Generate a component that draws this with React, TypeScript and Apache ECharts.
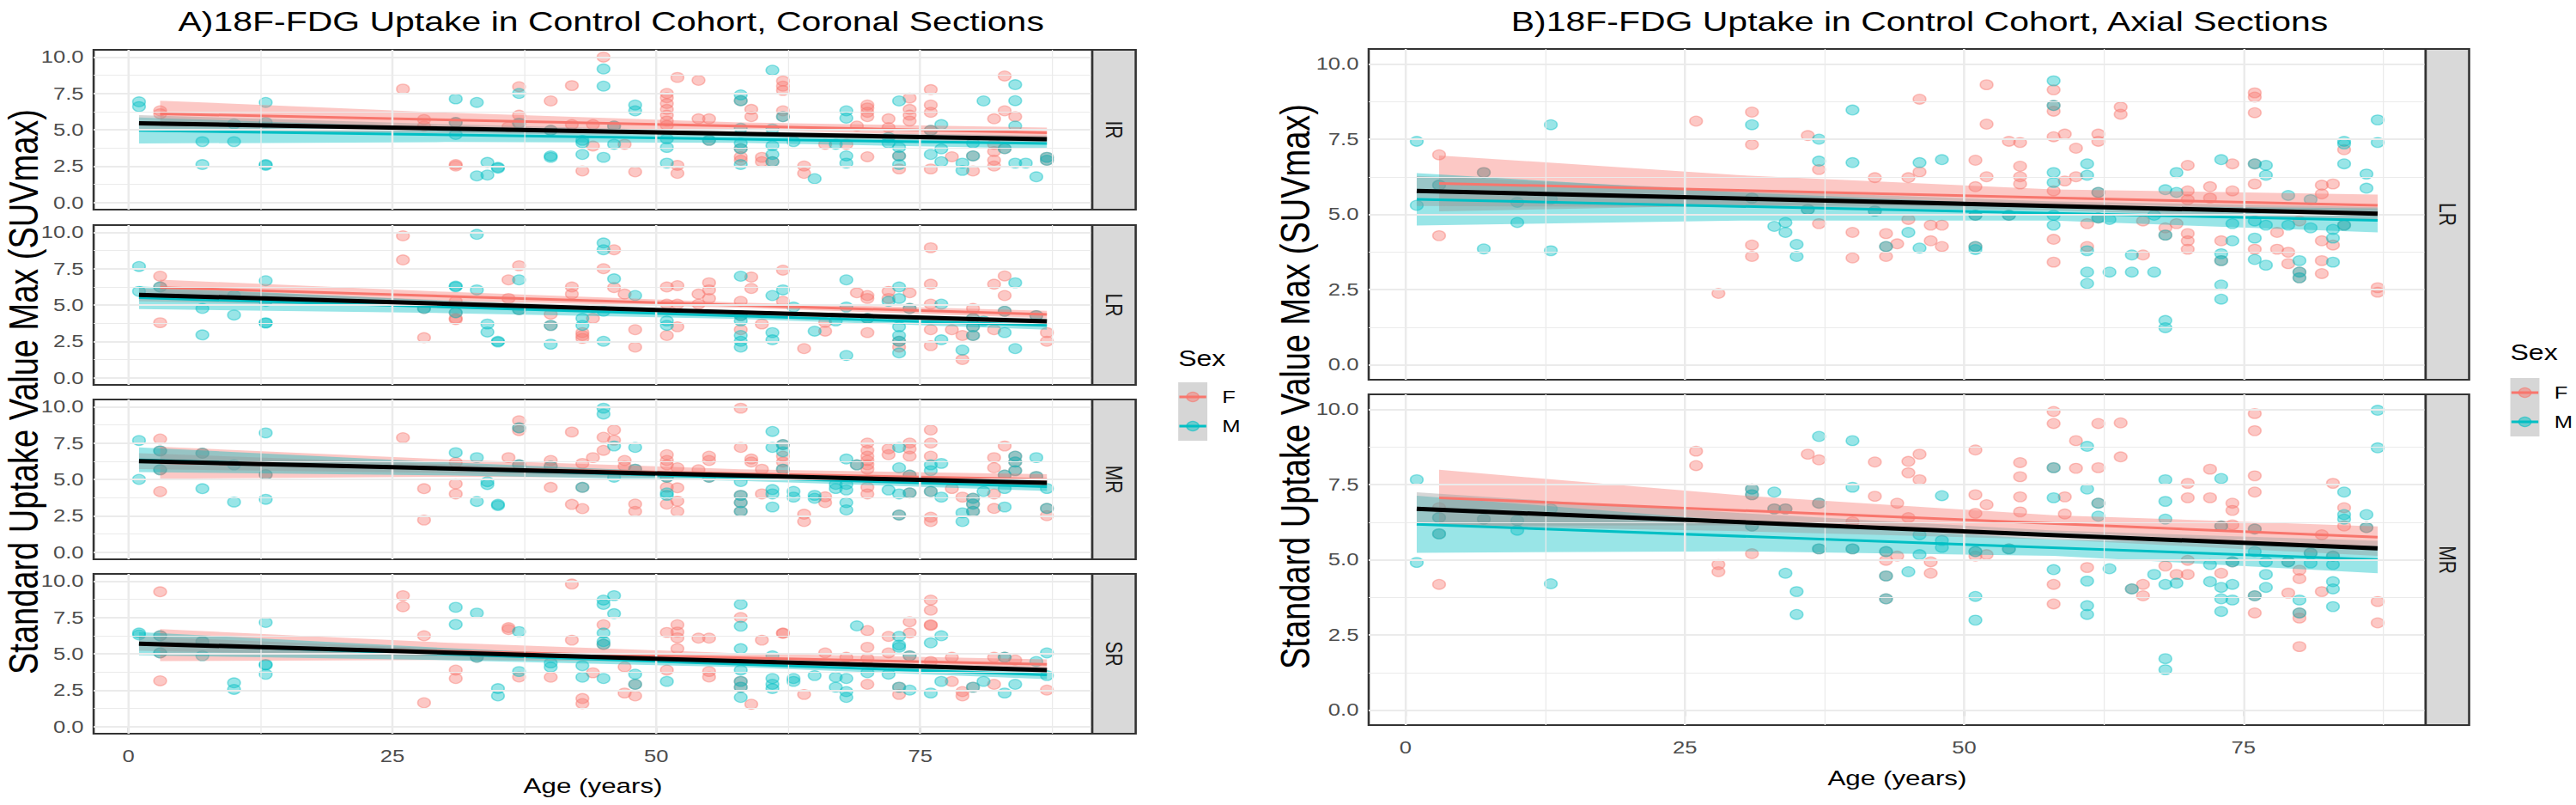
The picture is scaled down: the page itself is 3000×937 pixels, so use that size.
import React, { useEffect, useRef } from 'react';
import * as echarts from 'echarts';

// The reference image is horizontally stretched by ~1.28 (text & dots are wider than tall),
// so the chart is laid out at 3000/1.28 px and scaled along x with CSS.
const STRETCH = 1.28;
const CHART_W = 3000 / STRETCH;
const CHART_H = 937;

const FONT = "'Liberation Sans', Arial, Helvetica, sans-serif";
const COL_F = '#F8766D';
const COL_M = '#00BFC4';
const GRID_COL = '#EBEBEB';

const ageTicks = [0, 25, 50, 75];
const ageMinor = [12.5, 37.5, 62.5, 87.5];
const suvTicks = [0, 2.5, 5, 7.5, 10];
const suvMinor = [1.25, 3.75, 6.25, 8.75];
const sexLevels = ['F', 'M'];
const coronalFacets = ['IR', 'LR', 'MR', 'SR'];
const axialFacets = ['LR', 'MR'];

// ---------------- Coronal sections (panel A) ----------------
const corIR_F = [[3,6.3],[3,6.1],[26,7.8],[28,5.7],[28,5.25],[31,2.6],[31,2.5],[31,5.5],[37,7.96],[37,6.0],[37,5.45],[36,5.2],[40,6.98],[40,4.96],[42,8.04],[42,5.35],[43,2.16],[44,3.88],[44,5.35],[45,10.0],[46,5.25],[47,4.0],[48,2.1],[51,7.5],[51,7.2],[51,6.8],[51,6.4],[51,6.0],[51,5.6],[51,5.3],[52,8.6],[52,2.55],[52,2.0],[54,8.4],[54,5.75],[55,5.75],[55,4.27],[58,7.0],[58,3.7],[58,3.14],[58,2.9],[59,6.4],[59,5.9],[60,3.1],[60,2.8],[62,8.35],[62,8.0],[62,7.7],[62,6.3],[62,5.9],[61,2.8],[64,2.5],[64,2.0],[66,4.0],[68,4.0],[69,5.25],[70,6.7],[70,6.5],[70,6.2],[70,5.9],[70,3.14],[72,5.75],[72,5.15],[74,7.18],[74,6.4],[74,6.0],[74,5.6],[73,3.2],[73,2.3],[76,7.76],[76,6.7],[76,6.2],[76,4.96],[76,2.3],[78,3.14],[80,3.2],[80,2.16],[82,5.75],[82,4.0],[82,3.5],[82,2.9],[82,2.5],[83,3.7],[83,8.7],[83,6.3],[84,5.9],[87,3.1],[87,2.9]];
const corIR_M = [[1,6.92],[1,6.59],[7,4.18],[7,2.6],[10,4.18],[10,5.4],[13,6.88],[13,2.6],[13,2.55],[13,5.5],[31,7.12],[31,5.5],[31,4.67],[33,6.88],[33,1.82],[34,2.75],[34,1.88],[35,2.41],[35,2.35],[37,7.5],[37,5.45],[40,3.2],[40,3.1],[40,4.96],[43,3.3],[43,4.27],[43,4.1],[45,9.18],[45,8.0],[45,3.1],[46,4.0],[46,5.25],[48,6.7],[48,6.3],[51,4.37],[51,3.78],[51,2.7],[55,4.27],[58,7.4],[58,7.0],[58,5.1],[58,4.08],[58,3.7],[58,2.6],[61,9.1],[61,5.05],[61,3.9],[61,3.3],[61,2.8],[62,5.9],[63,4.18],[65,1.63],[67,4.0],[68,6.3],[68,5.8],[68,3.2],[68,2.7],[72,4.47],[72,4.08],[73,6.98],[73,3.78],[73,3.2],[73,2.6],[76,4.96],[76,3.3],[77,5.35],[77,3.68],[77,2.8],[79,2.7],[79,2.2],[80,3.2],[80,4.08],[81,6.98],[83,3.7],[84,8.1],[84,7.0],[84,5.25],[84,2.7],[85,2.7],[86,1.76],[87,3.1],[87,2.9]];
const corIR_fitF = [[3,6.1],[87,4.8]];
const corIR_fitM = [[1,4.95],[87,4.05]];
const corIR_fitAll = [[1,5.45],[87,4.35]];
const corIR_bandF = [[3,5.2,7.0],[30,5.18,6.18],[58,5.0,5.5],[87,4.45,5.15]];
const corIR_bandM = [[1,4.05,5.85],[30,4.15,5.15],[58,4.1,4.6],[87,3.7,4.4]];
const corIR_bandAll = [[1,4.9,6.0],[30,4.78,5.38],[58,4.57,4.87],[87,4.1,4.6]];

const corLR_F = [[3,6.98],[3,6.24],[3,3.78],[26,9.76],[26,8.1],[28,2.75],[28,4.76],[31,4.08],[31,4.0],[31,4.47],[31,5.25],[36,6.73],[36,5.45],[37,7.7],[37,4.67],[40,4.37],[40,3.59],[42,6.24],[42,5.75],[43,3.1],[43,2.9],[43,2.7],[44,4.08],[46,8.8],[45,7.5],[46,6.2],[47,5.75],[48,3.3],[48,2.1],[51,6.24],[52,6.33],[51,5.06],[52,5.06],[51,2.9],[52,3.5],[54,5.75],[55,6.53],[55,6.04],[55,5.45],[54,5.06],[59,6.92],[59,6.14],[58,5.25],[58,4.27],[58,3.3],[60,3.69],[62,7.4],[62,5.25],[64,2.0],[66,3.2],[66,3.8],[69,5.84],[70,5.45],[70,5.65],[70,4.08],[70,3.1],[72,5.94],[72,5.45],[74,5.84],[74,4.76],[73,2.1],[73,2.5],[76,8.94],[76,6.43],[76,5.06],[76,3.3],[76,2.2],[78,3.3],[79,2.9],[79,1.24],[80,4.08],[80,3.5],[80,2.9],[80,4.76],[82,6.43],[83,7.0],[83,5.65],[83,4.57],[82,3.3],[86,4.27],[87,3.1],[87,2.5]];
const corLR_M = [[1,7.65],[1,5.94],[3,6.24],[7,4.76],[7,2.94],[10,4.31],[10,5.65],[13,6.67],[13,3.78],[13,3.75],[13,5.25],[28,4.76],[31,6.3],[31,6.25],[31,4.47],[33,9.86],[33,6.04],[34,3.69],[34,3.14],[35,2.5],[35,2.45],[37,6.73],[37,4.67],[40,3.59],[40,2.3],[43,4.08],[43,3.6],[45,9.27],[45,8.8],[46,6.8],[48,5.65],[45,4.57],[45,2.5],[51,3.9],[51,3.6],[58,6.98],[58,4.27],[58,3.9],[58,2.9],[58,2.5],[58,2.1],[61,5.65],[62,6.04],[61,3.1],[61,2.6],[63,4.86],[65,3.2],[67,3.9],[68,4.86],[68,1.53],[68,6.73],[70,4.08],[72,5.25],[73,6.24],[73,5.45],[74,4.76],[73,3.5],[73,2.9],[73,2.5],[73,1.7],[77,5.06],[77,2.6],[79,1.9],[80,4.08],[80,3.5],[80,2.9],[81,3.9],[84,6.53],[83,4.57],[83,3.1],[84,2.0],[86,4.27]];
const corLR_fitF = [[3,6.2],[87,4.35]];
const corLR_fitM = [[1,5.5],[87,3.6]];
const corLR_fitAll = [[1,5.7],[87,3.88]];
const corLR_bandF = [[3,5.65,6.75],[30,5.31,5.91],[58,4.81,5.17],[87,4.1,4.6]];
const corLR_bandM = [[1,4.72,6.28],[30,4.44,5.28],[58,4.04,4.44],[87,3.3,3.9]];
const corLR_bandAll = [[1,5.25,6.15],[30,4.84,5.34],[58,4.37,4.61],[87,3.68,4.08]];

const corMR_F = [[3,7.78],[3,6.96],[3,5.66],[3,4.16],[7,6.8],[13,5.33],[26,7.87],[28,4.36],[28,2.2],[31,6.17],[31,4.69],[31,4.0],[36,6.5],[37,9.04],[37,8.55],[37,8.36],[37,6.0],[40,6.3],[40,5.9],[40,4.45],[42,8.26],[42,3.28],[43,2.99],[43,4.45],[43,6.1],[44,6.5],[46,8.4],[45,7.9],[45,7.0],[46,7.7],[47,6.3],[47,5.9],[48,5.7],[48,3.3],[48,2.8],[51,6.7],[51,6.3],[51,6.0],[51,4.46],[51,3.3],[51,5.15],[52,5.8],[52,4.42],[52,3.5],[52,2.8],[54,5.67],[55,6.6],[55,6.3],[55,5.15],[58,9.9],[58,7.2],[58,3.9],[58,3.4],[58,2.8],[59,6.4],[59,6.2],[60,5.7],[60,4.0],[62,6.6],[62,6.2],[62,5.7],[62,7.4],[64,2.6],[64,2.1],[66,3.8],[66,3.4],[69,6.0],[70,7.5],[70,7.0],[70,6.6],[70,6.3],[70,6.0],[70,5.7],[70,4.46],[70,4.0],[72,7.1],[72,6.7],[73,2.55],[74,7.5],[74,7.1],[74,6.6],[74,5.3],[74,4.07],[76,8.4],[76,7.5],[76,6.6],[76,4.17],[76,2.4],[76,2.1],[78,4.37],[79,3.78],[80,3.7],[80,3.3],[80,2.8],[82,6.5],[82,5.8],[82,4.0],[82,3.0],[83,7.3],[83,5.3],[84,6.6],[84,6.2],[84,5.6],[86,5.2],[87,3.0],[87,2.5]];
const corMR_M = [[1,7.68],[1,5.0],[3,6.96],[3,5.66],[7,6.8],[7,4.36],[10,6.0],[10,3.44],[13,8.2],[13,5.33],[13,3.63],[31,6.84],[33,6.5],[33,3.48],[34,4.84],[34,4.65],[35,3.28],[35,3.2],[37,8.55],[37,6.0],[40,5.9],[43,4.45],[45,9.9],[45,9.5],[46,7.3],[46,5.15],[48,7.2],[48,5.7],[51,4.07],[51,3.9],[51,5.15],[55,5.15],[58,4.85],[58,3.9],[58,3.4],[58,2.8],[61,8.3],[61,7.2],[62,7.4],[62,6.9],[62,5.7],[61,4.3],[61,4.0],[61,3.1],[63,4.17],[63,3.78],[65,3.9],[65,3.7],[67,4.66],[67,4.37],[68,6.4],[69,6.0],[68,4.66],[68,4.27],[68,3.4],[68,2.9],[72,4.27],[73,7.2],[73,5.8],[73,4.0],[73,2.55],[74,5.3],[74,4.07],[76,6.0],[76,5.6],[76,4.17],[77,6.1],[77,3.78],[79,2.7],[79,2.1],[80,3.7],[80,3.3],[80,2.8],[81,4.17],[83,4.37],[83,3.1],[83,5.3],[84,6.6],[84,6.2],[84,5.6],[86,6.5],[86,5.2],[87,4.37],[87,3.0]];
const corMR_fitF = [[3,6.15],[87,5.0]];
const corMR_fitM = [[1,6.35],[87,4.5]];
const corMR_fitAll = [[1,6.26],[87,4.76]];
const corMR_bandF = [[3,5.05,7.25],[30,5.18,6.38],[58,5.1,5.7],[87,4.65,5.35]];
const corMR_bandM = [[1,5.5,7.2],[30,5.28,6.18],[58,4.9,5.34],[87,4.2,4.8]];
const corMR_bandAll = [[1,5.71,6.81],[30,5.45,6.05],[58,5.13,5.41],[87,4.54,4.98]];

const corSR_F = [[3,9.27],[3,6.24],[3,5.06],[3,3.14],[7,5.84],[26,9.0],[26,8.24],[28,6.24],[28,1.63],[31,3.88],[31,3.3],[33,4.76],[36,6.8],[36,6.67],[37,3.4],[40,3.39],[42,9.8],[42,5.94],[43,1.92],[43,1.57],[44,3.69],[45,7.0],[45,5.65],[47,4.1],[47,2.3],[48,2.1],[48,2.9],[51,6.47],[51,3.88],[52,7.0],[52,6.5],[52,6.1],[52,5.35],[54,6.08],[55,6.08],[55,3.78],[55,3.4],[58,7.5],[58,3.1],[58,2.7],[59,1.53],[60,5.94],[62,6.43],[62,6.4],[64,2.2],[66,5.06],[68,4.76],[70,6.6],[70,5.45],[70,4.67],[70,2.9],[72,6.2],[72,5.06],[73,2.2],[73,2.7],[74,7.2],[74,6.43],[74,4.86],[76,8.7],[76,8.0],[76,7.0],[76,6.95],[76,4.47],[78,4.76],[78,3.1],[79,2.4],[79,2.1],[80,2.7],[82,4.76],[82,2.9],[83,4.76],[84,4.57],[87,2.5]];
const corSR_M = [[1,6.43],[1,6.3],[3,6.24],[3,5.06],[7,5.84],[7,4.86],[10,3.0],[10,2.55],[13,7.16],[13,4.27],[13,4.22],[13,3.59],[31,8.2],[31,7.02],[33,7.8],[33,4.76],[35,2.6],[35,2.1],[37,6.53],[37,3.78],[40,4.37],[40,4.08],[43,4.18],[43,3.39],[45,8.7],[45,8.4],[46,9.0],[46,7.76],[45,6.43],[45,5.84],[45,5.65],[45,3.3],[48,3.6],[48,2.9],[51,3.1],[58,8.4],[58,6.9],[58,5.35],[58,3.88],[58,3.1],[58,2.7],[58,2.0],[61,4.86],[61,3.3],[61,2.9],[61,2.6],[63,3.3],[63,3.1],[65,3.5],[67,3.39],[67,2.7],[68,3.3],[68,2.4],[68,2.0],[69,6.92],[70,3.7],[72,3.6],[73,6.2],[73,5.6],[73,5.45],[73,2.7],[74,4.86],[74,2.5],[76,5.75],[76,2.3],[77,6.24],[77,3.1],[80,2.7],[81,3.1],[83,4.76],[83,2.3],[84,2.9],[86,4.47],[87,5.06],[87,3.5]];
const corSR_fitF = [[3,5.6],[87,4.27]];
const corSR_fitM = [[1,5.7],[87,3.55]];
const corSR_fitAll = [[1,5.7],[87,3.88]];
const corSR_bandF = [[3,4.5,6.7],[30,4.57,5.77],[58,4.43,5.03],[87,3.92,4.62]];
const corSR_bandM = [[1,4.9,6.5],[30,4.56,5.4],[58,4.08,4.48],[87,3.25,3.85]];
const corSR_bandAll = [[1,5.2,6.2],[30,4.82,5.36],[58,4.36,4.62],[87,3.68,4.08]];

// ---------------- Axial sections (panel B) ----------------
const axLR_F = [[3,6.98],[3,4.29],[3,5.97],[7,6.39],[26,8.1],[28,2.37],[31,8.4],[31,7.32],[31,5.54],[31,3.98],[31,3.6],[36,7.62],[37,6.49],[37,4.69],[36,5.16],[40,4.4],[40,3.55],[42,6.22],[42,5.11],[43,3.93],[43,4.36],[43,3.6],[44,4.02],[45,6.22],[45,4.83],[46,8.83],[46,6.41],[47,4.64],[47,4.12],[48,4.64],[48,3.93],[51,6.8],[51,5.92],[51,4.97],[51,3.93],[52,9.31],[52,8.0],[52,6.25],[54,7.43],[54,4.97],[55,7.39],[55,6.6],[55,6.25],[55,6.01],[58,9.14],[58,8.62],[58,8.43],[58,7.58],[58,5.78],[58,4.17],[58,3.41],[59,7.67],[59,6.11],[60,7.2],[60,6.25],[62,7.67],[62,7.43],[62,5.73],[62,4.88],[61,4.69],[61,3.93],[64,8.57],[64,8.33],[66,3.65],[66,4.78],[68,4.55],[68,4.31],[69,4.69],[70,6.63],[70,5.78],[70,5.49],[70,4.36],[70,4.12],[70,3.84],[73,4.12],[73,3.46],[72,5.92],[72,5.54],[74,6.68],[74,5.78],[76,9.04],[76,8.9],[76,8.38],[76,6.68],[76,6.01],[76,3.84],[78,4.4],[78,3.84],[79,3.74],[79,3.36],[80,3.08],[80,2.89],[80,4.78],[82,5.97],[82,5.68],[82,4.12],[82,3.46],[82,3.03],[83,6.01],[83,3.98],[84,7.15],[84,4.64],[87,2.56],[87,2.41]];
const axLR_M = [[1,7.43],[1,5.3],[3,5.97],[7,6.39],[7,3.85],[10,5.4],[10,4.73],[13,7.98],[13,3.79],[13,5.5],[31,7.98],[31,5.54],[33,4.6],[34,4.73],[34,4.4],[35,4.0],[35,3.6],[37,7.5],[37,6.77],[36,5.16],[40,8.47],[40,6.72],[42,5.11],[43,3.93],[45,4.4],[46,6.72],[46,3.88],[48,6.82],[51,4.97],[51,3.93],[51,3.83],[54,4.97],[58,9.44],[58,8.62],[58,6.39],[58,6.06],[58,4.97],[58,4.64],[61,6.68],[61,6.3],[62,5.73],[62,4.88],[61,3.79],[61,3.08],[61,2.7],[63,4.83],[63,3.08],[65,3.65],[65,3.08],[67,3.08],[67,4.97],[68,5.82],[68,4.31],[68,1.47],[68,1.23],[69,6.39],[69,5.73],[73,6.82],[73,3.69],[73,3.46],[73,2.65],[73,2.18],[74,4.69],[74,4.12],[76,6.68],[76,4.78],[76,4.21],[76,3.5],[77,6.63],[77,6.3],[77,4.64],[77,3.31],[79,5.63],[79,4.64],[80,3.46],[80,3.08],[80,2.89],[81,5.49],[81,4.55],[83,4.5],[83,4.21],[83,3.41],[84,7.43],[84,7.34],[84,6.68],[84,4.64],[86,6.34],[86,5.87],[87,8.14],[87,7.39]];
const axLR_fitF = [[3,6.03],[87,5.3]];
const axLR_fitM = [[1,5.5],[87,4.8]];
const axLR_fitAll = [[1,5.78],[87,5.02]];
const axLR_bandF = [[3,5.1,6.96],[30,5.3,6.3],[58,5.27,5.83],[87,4.94,5.66]];
const axLR_bandM = [[1,4.63,6.37],[30,4.79,5.73],[58,4.79,5.29],[87,4.4,5.2]];
const axLR_bandAll = [[1,5.28,6.28],[30,5.24,5.8],[58,5.13,5.43],[87,4.8,5.24]];

const axMR_F = [[3,6.73],[3,6.4],[3,5.86],[3,4.18],[7,6.35],[26,8.61],[26,8.13],[28,4.84],[28,4.6],[31,7.35],[31,7.16],[31,6.12],[31,5.2],[33,6.69],[34,6.69],[36,8.51],[37,8.32],[37,6.88],[37,5.36],[40,6.26],[40,5.36],[42,8.25],[42,7.11],[43,5.27],[43,4.98],[43,4.46],[43,3.7],[44,5.12],[44,6.88],[45,8.27],[45,7.89],[45,6.4],[46,8.51],[46,7.66],[47,4.93],[47,4.55],[51,8.65],[51,7.16],[51,6.54],[51,5.27],[51,5.12],[52,6.83],[52,5.17],[54,5.36],[55,8.23],[55,7.76],[55,7.09],[55,6.59],[58,9.93],[58,9.53],[58,8.06],[58,4.18],[58,3.53],[59,7.09],[59,6.52],[60,8.96],[60,8.04],[62,6.88],[62,9.53],[62,8.06],[61,4.74],[64,9.55],[64,8.42],[65,4.03],[66,4.18],[66,3.8],[68,4.79],[69,4.51],[70,7.54],[70,7.06],[70,4.98],[70,4.51],[72,8.01],[72,7.06],[73,6.12],[73,4.55],[74,6.88],[74,6.64],[74,6.16],[74,4.93],[76,9.86],[76,9.29],[76,7.79],[76,7.25],[76,6.02],[76,3.8],[76,3.23],[79,3.89],[79,4.93],[80,4.65],[80,4.37],[80,3.23],[80,3.06],[80,2.11],[81,5.22],[82,5.83],[82,3.94],[83,7.54],[83,5.12],[84,6.73],[84,6.12],[86,6.07],[87,3.61],[87,2.9]];
const axMR_M = [[1,7.66],[1,4.91],[3,6.4],[3,5.86],[7,6.35],[10,6.3],[10,5.98],[13,6.69],[13,4.2],[31,7.35],[31,7.16],[31,6.12],[33,7.25],[33,6.69],[34,6.69],[34,4.55],[35,3.94],[35,3.18],[37,9.1],[37,6.88],[37,5.36],[40,8.96],[40,7.41],[40,5.36],[43,5.27],[43,4.46],[43,3.7],[45,4.6],[46,5.83],[46,5.17],[48,7.13],[48,5.64],[48,5.41],[51,5.27],[51,3.78],[51,2.99],[54,5.36],[58,8.06],[58,7.06],[58,4.67],[61,8.77],[61,7.35],[62,6.88],[62,6.45],[61,4.29],[61,3.47],[61,3.18],[63,4.7],[65,4.03],[67,4.51],[68,7.66],[68,6.94],[68,6.35],[68,4.18],[68,1.71],[68,1.34],[69,4.22],[72,4.84],[72,4.27],[73,7.7],[73,6.12],[73,4.08],[73,3.7],[73,3.28],[74,4.18],[74,3.66],[74,4.93],[76,6.02],[76,5.27],[76,3.8],[77,4.93],[77,4.51],[77,4.08],[79,4.93],[80,3.66],[80,3.23],[81,5.22],[81,4.89],[83,4.84],[83,4.27],[83,4.03],[83,3.44],[83,5.12],[84,7.25],[84,6.5],[84,6.35],[86,6.5],[86,6.07],[87,9.97],[87,8.72]];
const axMR_fitF = [[3,7.06],[87,5.75]];
const axMR_fitM = [[1,6.18],[87,5.0]];
const axMR_fitAll = [[1,6.69],[87,5.38]];
const axMR_bandF = [[3,6.13,7.99],[30,6.14,7.14],[58,5.92,6.48],[87,5.39,6.11]];
const axMR_bandM = [[1,5.23,7.13],[30,5.28,6.28],[58,5.13,5.67],[87,4.55,5.45]];
const axMR_bandAll = [[1,6.14,7.24],[30,5.95,6.55],[58,5.67,5.97],[87,5.13,5.63]];

// ---------------- layout (chart px, before x-stretch) ----------------
const L_LEFT = 85.2;
const L_WIDTH = 908.6;
const L_TOPS = [58, 262, 465, 668];
const L_H = 186;
const R_LEFT = 1245.3;
const R_WIDTH = 961.7;
const R_TOPS = [57, 459];
const R_H = 385;
const STRIP_W = 39.5;

type Pt = number[];
interface Facet {
  label: string; left: number; top: number; width: number; height: number; bottom: boolean; nameGap: number;
  ptsF: Pt[]; ptsM: Pt[]; fitF: Pt[]; fitM: Pt[]; fitAll: Pt[]; bandF: Pt[]; bandM: Pt[]; bandAll: Pt[];
}

const facets: Facet[] = [
  { label: coronalFacets[0], left: L_LEFT, top: L_TOPS[0], width: L_WIDTH, height: L_H, bottom: false, nameGap: 0,
    ptsF: corIR_F, ptsM: corIR_M, fitF: corIR_fitF, fitM: corIR_fitM, fitAll: corIR_fitAll, bandF: corIR_bandF, bandM: corIR_bandM, bandAll: corIR_bandAll },
  { label: coronalFacets[1], left: L_LEFT, top: L_TOPS[1], width: L_WIDTH, height: L_H, bottom: false, nameGap: 0,
    ptsF: corLR_F, ptsM: corLR_M, fitF: corLR_fitF, fitM: corLR_fitM, fitAll: corLR_fitAll, bandF: corLR_bandF, bandM: corLR_bandM, bandAll: corLR_bandAll },
  { label: coronalFacets[2], left: L_LEFT, top: L_TOPS[2], width: L_WIDTH, height: L_H, bottom: false, nameGap: 0,
    ptsF: corMR_F, ptsM: corMR_M, fitF: corMR_fitF, fitM: corMR_fitM, fitAll: corMR_fitAll, bandF: corMR_bandF, bandM: corMR_bandM, bandAll: corMR_bandAll },
  { label: coronalFacets[3], left: L_LEFT, top: L_TOPS[3], width: L_WIDTH, height: L_H, bottom: true, nameGap: 48,
    ptsF: corSR_F, ptsM: corSR_M, fitF: corSR_fitF, fitM: corSR_fitM, fitAll: corSR_fitAll, bandF: corSR_bandF, bandM: corSR_bandM, bandAll: corSR_bandAll },
  { label: axialFacets[0], left: R_LEFT, top: R_TOPS[0], width: R_WIDTH, height: R_H, bottom: false, nameGap: 0,
    ptsF: axLR_F, ptsM: axLR_M, fitF: axLR_fitF, fitM: axLR_fitM, fitAll: axLR_fitAll, bandF: axLR_bandF, bandM: axLR_bandM, bandAll: axLR_bandAll },
  { label: axialFacets[1], left: R_LEFT, top: R_TOPS[1], width: R_WIDTH, height: R_H, bottom: true, nameGap: 49,
    ptsF: axMR_F, ptsM: axMR_M, fitF: axMR_fitF, fitM: axMR_fitM, fitAll: axMR_fitAll, bandF: axMR_bandF, bandM: axMR_bandM, bandAll: axMR_bandAll },
];

function bandSeries(gi: number, band: Pt[], fill: string) {
  return {
    type: 'custom', xAxisIndex: gi, yAxisIndex: gi, z: 3, silent: true,
    data: band, encode: { x: 0, y: [1, 2] },
    renderItem: (params: any, api: any) => {
      if (params.dataIndex !== 0) return null;
      const upper = band.map((d) => api.coord([d[0], d[2]]));
      const lower = band.map((d) => api.coord([d[0], d[1]])).reverse();
      return { type: 'polygon', shape: { points: upper.concat(lower) }, style: { fill } };
    },
  };
}

function pointSeries(gi: number, pts: Pt[], name: string, rgb: string) {
  return {
    type: 'scatter', name, xAxisIndex: gi, yAxisIndex: gi, z: 2, silent: true,
    data: pts, symbol: 'circle', symbolSize: 11.5,
    itemStyle: { color: `rgba(${rgb},0.5)`, borderColor: `rgba(${rgb},0.55)`, borderWidth: 1.3 },
  };
}

function lineSeries(gi: number, fit: Pt[], color: string, width: number, z: number) {
  return {
    type: 'line', xAxisIndex: gi, yAxisIndex: gi, z, silent: true, data: fit,
    showSymbol: false, symbol: 'none', lineStyle: { color, width, cap: 'butt' },
  };
}

function gridLineSeries(gi: number) {
  const minor = { color: GRID_COL, width: 1, type: 'solid' };
  const major = { color: GRID_COL, width: 2, type: 'solid' };
  return {
    type: 'line', xAxisIndex: gi, yAxisIndex: gi, z: 1, silent: true,
    data: [[0, 0]], showSymbol: false, symbol: 'none', lineStyle: { opacity: 0 },
    markLine: {
      silent: true, symbol: ['none', 'none'], label: { show: false }, animation: false,
      emphasis: { disabled: true },
      data: [
        ...suvMinor.map((v) => ({ yAxis: v, lineStyle: minor })),
        ...ageMinor.map((v) => ({ xAxis: v, lineStyle: minor })),
        ...suvTicks.map((v) => ({ yAxis: v, lineStyle: major })),
        ...ageTicks.map((v) => ({ xAxis: v, lineStyle: major })),
      ],
    },
  };
}

function textEl(text: string, x: number, y: number, fontSize: number, opts: any = {}) {
  const align = opts.align || 'center';
  return {
    type: 'text', x, y, rotation: opts.rotation || 0, silent: true, z: 10,
    style: {
      text, fontSize, fontFamily: FONT, fill: opts.fill || '#000000',
      align, verticalAlign: 'middle', textAlign: align, textVerticalAlign: 'middle',
    },
  };
}

function legendEls(x: number, titleY: number, keyTop: number, keyH: number, textX: number) {
  const els: any[] = [textEl('Sex', x, titleY, 25, { align: 'left' })];
  els.push({ type: 'rect', silent: true, z: 10, shape: { x, y: keyTop, width: 26.5, height: keyH * 2 }, style: { fill: '#D6D6D6' } });
  sexLevels.forEach((lvl, i) => {
    const cy = keyTop + keyH * (i + 0.5);
    const col = i === 0 ? COL_F : COL_M;
    const rgb = i === 0 ? '248,118,109' : '0,191,196';
    els.push({ type: 'line', silent: true, z: 11, shape: { x1: x + 1, y1: cy, x2: x + 25.5, y2: cy }, style: { stroke: col, lineWidth: 3 } });
    els.push({ type: 'circle', silent: true, z: 12, shape: { cx: x + 13.25, cy, r: 5.5 }, style: { fill: `rgba(${rgb},0.5)`, stroke: `rgba(${rgb},0.6)`, lineWidth: 1.3 } });
    els.push(textEl(lvl, textX, cy, 20, { align: 'left' }));
  });
  return els;
}

function buildOption() {
  const grid: any[] = [];
  const xAxis: any[] = [];
  const yAxis: any[] = [];
  const series: any[] = [];
  const graphic: any[] = [];

  facets.forEach((f, gi) => {
    grid.push({ left: f.left, top: f.top, width: f.width, height: f.height, show: true, borderColor: '#333333', borderWidth: 2, backgroundColor: 'transparent' });
    xAxis.push({
      type: 'value', gridIndex: gi, min: -3.3, max: 91.3,
      splitLine: { show: false }, axisLine: { show: false },
      axisTick: { show: f.bottom, customValues: ageTicks, length: 7, lineStyle: { color: '#333333', width: 1.5 } },
      axisLabel: { show: f.bottom, customValues: ageTicks, fontSize: 20, color: '#4D4D4D', margin: 16, fontFamily: FONT },
      name: f.bottom ? 'Age (years)' : '', nameLocation: 'middle', nameGap: f.nameGap,
      nameTextStyle: { fontSize: 24.5, color: '#000000', fontFamily: FONT },
    });
    yAxis.push({
      type: 'value', gridIndex: gi, min: -0.5, max: 10.5,
      splitLine: { show: false }, axisLine: { show: false },
      axisTick: { show: true, customValues: suvTicks, length: 5, lineStyle: { color: '#333333', width: 2 } },
      axisLabel: { customValues: suvTicks, fontSize: 20, color: '#4D4D4D', margin: 9, fontFamily: FONT, formatter: (v: number) => v.toFixed(1) },
    });
    series.push(gridLineSeries(gi));
    series.push(pointSeries(gi, f.ptsF, 'F', '248,118,109'));
    series.push(pointSeries(gi, f.ptsM, 'M', '0,191,196'));
    series.push(bandSeries(gi, f.bandF, 'rgba(248,118,109,0.4)'));
    series.push(bandSeries(gi, f.bandM, 'rgba(0,191,196,0.4)'));
    series.push(bandSeries(gi, f.bandAll, 'rgba(153,153,153,0.4)'));
    series.push(lineSeries(gi, f.fitF, COL_F, 3, 4));
    series.push(lineSeries(gi, f.fitM, COL_M, 3, 4));
    series.push(lineSeries(gi, f.fitAll, '#000000', 5, 5));

    const sx = f.left + f.width;
    graphic.push({ type: 'rect', silent: true, z: 10, shape: { x: sx, y: f.top, width: STRIP_W, height: f.height }, style: { fill: '#D9D9D9', stroke: '#333333', lineWidth: 2 } });
    graphic.push(textEl(f.label, sx + STRIP_W / 2, f.top + f.height / 2, 21, { rotation: -Math.PI / 2, fill: '#1A1A1A' }));
  });

  // titles
  graphic.push(textEl('A)18F-FDG Uptake in Control Cohort, Coronal Sections', 556, 25, 32));
  graphic.push(textEl('B)18F-FDG Uptake in Control Cohort, Axial Sections', 1746.5, 25, 32));
  // y axis titles
  graphic.push(textEl('Standard Uptake Value Max (SUVmax)', 20.5, 456, 38, { rotation: Math.PI / 2 }));
  graphic.push(textEl('Standard Uptake Value Max (SUVmax)', 1178, 450, 38, { rotation: Math.PI / 2 }));
  // legends
  graphic.push(...legendEls(1072, 417, 445, 34, 1112));
  graphic.push(...legendEls(2284, 410, 440, 34, 2324));

  return {
    animation: false,
    backgroundColor: '#FFFFFF',
    textStyle: { fontFamily: FONT },
    grid, xAxis, yAxis, series, graphic,
  };
}

export default function App() {
  const ref = useRef<HTMLDivElement>(null);
  useEffect(() => {
    document.body.style.margin = '0';
    const chart = echarts.init(ref.current as HTMLDivElement, null, { renderer: 'svg' });
    chart.setOption(buildOption() as any);
    return () => chart.dispose();
  }, []);
  return (
    <div style={{ width: 3000, height: CHART_H, overflow: 'hidden', background: '#FFFFFF' }}>
      <div
        ref={ref}
        style={{ width: CHART_W, height: CHART_H, transform: `scaleX(${STRETCH})`, transformOrigin: '0 0' }}
      />
    </div>
  );
}
